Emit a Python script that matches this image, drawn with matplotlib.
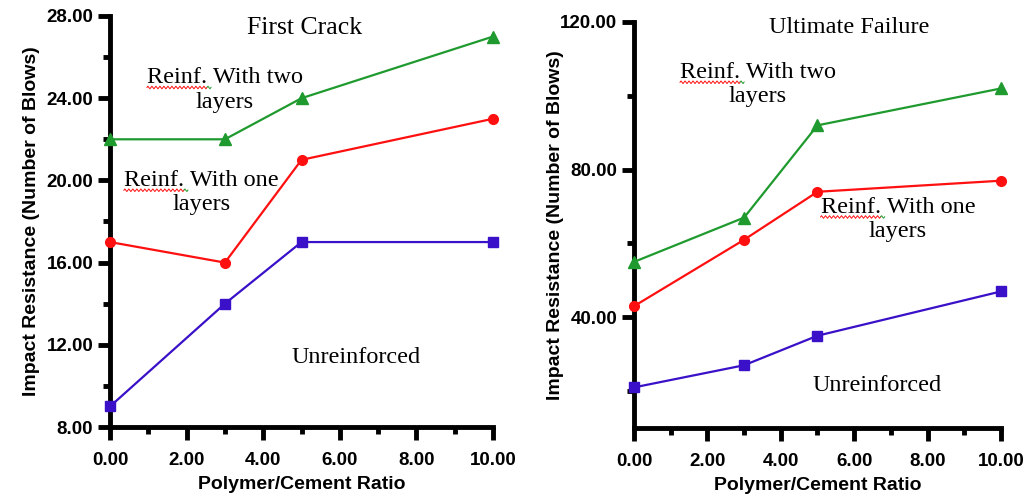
import numpy as np
import matplotlib.pyplot as plt
from matplotlib.lines import Line2D
from matplotlib.transforms import IdentityTransform
from matplotlib.ticker import MultipleLocator, FormatStrFormatter

# polymer/cement ratio
ratio = [0, 3, 5, 10]

# first crack (number of blows)
fc_two = [22, 22, 24, 27]
fc_one = [17, 16, 21, 23]
fc_unr = [9, 14, 17, 17]

# ultimate failure (number of blows)
uf_two = [55, 67, 92, 102]
uf_one = [43, 61, 74, 77]
uf_unr = [21, 27, 35, 47]

GREEN = '#1f9a2e'
RED = '#ff1010'
BLUE = '#3a10c8'
SERIF = 'Liberation Serif'
SANS = 'Liberation Sans'
NOTE_SIZE = 17.5

fig = plt.figure(figsize=(10.28, 5.0), dpi=100)
ax1 = fig.add_axes([0.107, 0.146, 0.3726, 0.822])
ax2 = fig.add_axes([0.6167, 0.144, 0.357, 0.812])


def style_axes(ax, ylim, ymajor, yminor, ypad):
    ax.set_xlim(0, 10)
    ax.set_ylim(*ylim)
    for s in ['top', 'right']:
        ax.spines[s].set_visible(False)
    for s in ['left', 'bottom']:
        ax.spines[s].set_linewidth(3.5)
    ax.xaxis.set_major_locator(MultipleLocator(2))
    ax.xaxis.set_minor_locator(MultipleLocator(1))
    ax.yaxis.set_major_locator(MultipleLocator(ymajor))
    ax.yaxis.set_minor_locator(MultipleLocator(yminor))
    ax.xaxis.set_major_formatter(FormatStrFormatter('%.2f'))
    ax.yaxis.set_major_formatter(FormatStrFormatter('%.2f'))
    ax.tick_params(which='major', direction='out', length=9, width=3.5, pad=3)
    ax.tick_params(which='minor', direction='out', length=5, width=3.5)
    ax.tick_params(axis='x', which='major', pad=9)
    for lab in ax.get_xticklabels() + ax.get_yticklabels():
        lab.set_fontfamily(SANS)
        lab.set_fontweight('bold')
        lab.set_fontsize(13.5)
    ax.set_xlabel('Polymer/Cement Ratio', fontfamily=SANS, fontweight='bold',
                  fontsize=14, labelpad=5)
    ax.set_ylabel('Impact Resistance (Number of Blows)', fontfamily=SANS,
                  fontweight='bold', fontsize=14, labelpad=ypad)


def plot_series(ax, two, one, unr):
    ax.plot(ratio, two, color=GREEN, marker='^', markersize=8, lw=1.6, clip_on=False, zorder=3)
    ax.plot(ratio, one, color=RED, marker='o', markersize=7, lw=1.6, clip_on=False, zorder=3)
    ax.plot(ratio, unr, color=BLUE, marker='s', markersize=7, lw=1.6, clip_on=False, zorder=3)


def note(ax, x, y, txt, size=NOTE_SIZE):
    return ax.text(x, y, txt, fontfamily=SERIF, fontsize=size, ha='center',
                   va='center', linespacing=1.2)


def squiggle(ax, t):
    # spell-check style wavy underline under the word "Reinf."
    r = fig.canvas.get_renderer()
    box = t.get_window_extent(r)
    first = t.get_text().split('\n')[0]
    tmp = ax.text(0, 0, first, fontfamily=SERIF, fontsize=t.get_fontsize())
    w_line = tmp.get_window_extent(r).width
    tmp.set_text('Reinf.')
    w_word = tmp.get_window_extent(r).width
    tmp.remove()
    cx = (box.x0 + box.x1) / 2
    x0 = cx - w_line / 2
    y = box.y1 - t.get_fontsize() * 1.15
    xs = np.arange(x0, x0 + w_word + 0.5, 1.0)
    ys = y + 1.3 * np.sin((xs - x0) * np.pi / 2)
    fig.add_artist(Line2D(xs, ys, color=RED, lw=0.7, transform=IdentityTransform()))
    xg = np.arange(x0 + w_word, x0 + w_word + 4.5, 1.0)
    yg = y + 1.3 * np.sin((xg - x0) * np.pi / 2)
    fig.add_artist(Line2D(xg, yg, color=GREEN, lw=0.7, transform=IdentityTransform()))


plot_series(ax1, fc_two, fc_one, fc_unr)
style_axes(ax1, (8, 28), 4, 2, 5)
note(ax1, 5.09, 27.4, 'First Crack', size=18.5)
a = note(ax1, 3.0, 24.4, 'Reinf. With two\nlayers')
b = note(ax1, 2.38, 19.4, 'Reinf. With one\nlayers')
note(ax1, 6.42, 11.4, 'Unreinforced')

plot_series(ax2, uf_two, uf_one, uf_unr)
style_axes(ax2, (10, 120), 40, 20, -3)
note(ax2, 5.86, 118.6, 'Ultimate Failure')
c = note(ax2, 3.38, 103, 'Reinf. With two\nlayers')
d = note(ax2, 7.19, 66.5, 'Reinf. With one\nlayers')
note(ax2, 6.62, 21.6, 'Unreinforced')

for ax, t in [(ax1, a), (ax1, b), (ax2, c), (ax2, d)]:
    squiggle(ax, t)

fig.savefig('out.png', dpi=100)
